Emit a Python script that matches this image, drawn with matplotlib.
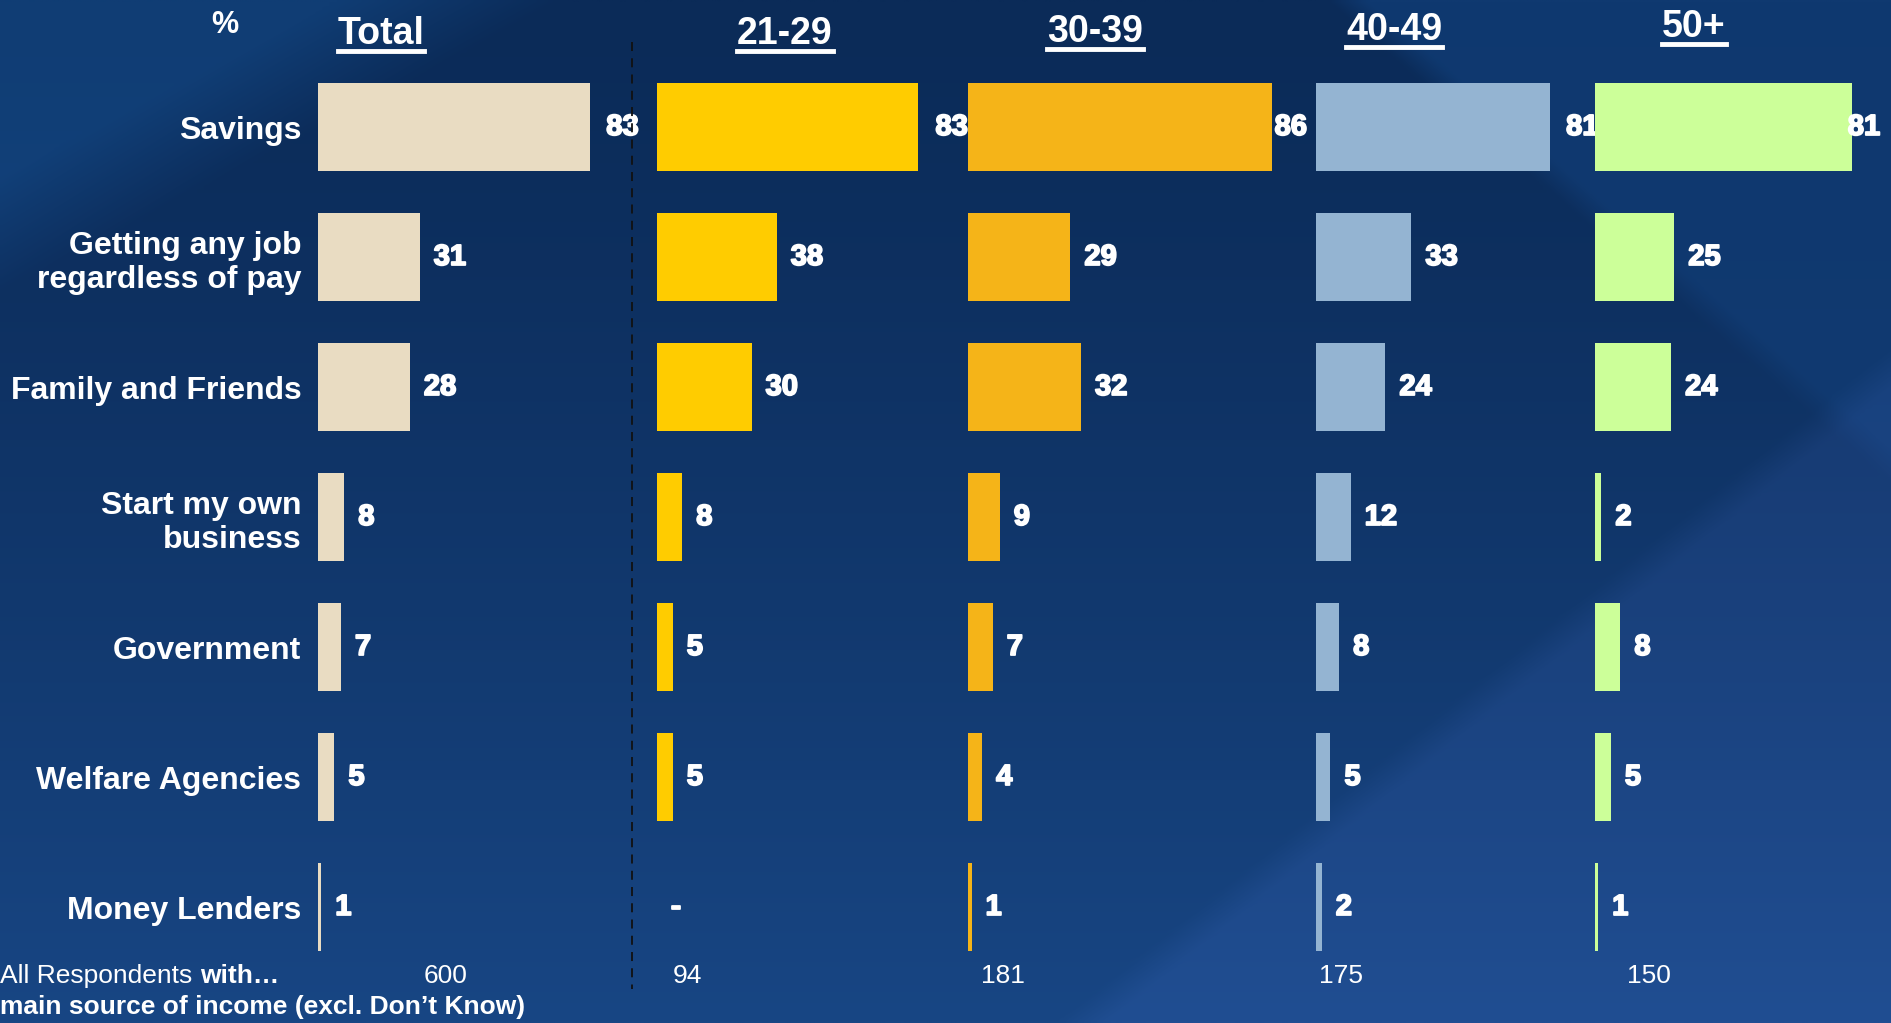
import numpy as np
import matplotlib
matplotlib.use("Agg")
import matplotlib.pyplot as plt
import matplotlib.patheffects as pe
from matplotlib.lines import Line2D

# ---- data ----
categories = ["Savings", "Getting any job\nregardless of pay", "Family and Friends",
              "Start my own\nbusiness", "Government", "Welfare Agencies", "Money Lenders"]
groups = ["Total", "21-29", "30-39", "40-49", "50+"]
total = [83, 31, 28, 8, 7, 5, 1]
age_21_29 = [83, 38, 30, 8, 5, 5, 0]
age_30_39 = [86, 29, 32, 9, 7, 4, 1]
age_40_49 = [81, 33, 24, 12, 8, 5, 2]
age_50_plus = [81, 25, 24, 2, 8, 5, 1]
bases = [600, 94, 181, 175, 150]

series = [total, age_21_29, age_30_39, age_40_49, age_50_plus]
colors = ["#E9DCC2", "#FFCC00", "#F5B418", "#94B4D2", "#CCFF99"]

# ---- layout (figure pixels) ----
W, H = 1891, 1023
bar_left = [318, 657, 968, 1316, 1595]
px_per_unit = [3.28, 3.15, 3.53, 2.89, 3.17]
head_x = [381, 785, 1095, 1394, 1694]
head_base = [44, 44, 42, 40, 37]
base_x = [446, 687, 1003, 1341, 1649]
first_gap_px = [16, 17, 3, 16, -4]   # label gap for the top row
gap_px = 14
ax_w = 330
ax_top, ax_bot = 62, 972

plt.rcParams["font.family"] = ["Liberation Sans", "DejaVu Sans"]

fig = plt.figure(figsize=(W / 100, H / 100), dpi=100)


def fx(x):
    return x / W


def fy(y):
    return 1 - y / H


# ---- background ----
bg = fig.add_axes([0, 0, 1, 1], zorder=-10)
ny, nx = 256, 474
yy, xx = np.mgrid[0:ny, 0:nx]
X = xx / (nx - 1) * W
Y = yy / (ny - 1) * H
top = np.array([11, 43, 88]) / 255
bot = np.array([24, 70, 132]) / 255
t = (Y / H) ** 1.3
img = top[None, None, :] * (1 - t[..., None]) + bot[None, None, :] * t[..., None]
# lighter wedge lower right
d1 = (Y - (1023 + (X - 1060) * (350 - 1023) / (1891 - 1060)))
m1 = np.clip(d1 / 40, 0, 1)
img += m1[..., None] * np.array([8, 8, 14]) / 255
# lighter wedge top right
d2 = X - (1330 + Y * 560 / 480)
m2 = np.clip(d2 / 40, 0, 1) * np.clip(1 - Y / 800, 0, 1)
img += m2[..., None] * np.array([4, 14, 24]) / 255
# lighter top-left corner
d3 = 1 - (X / 560 + Y / 290)
m3 = np.clip(d3 * 2.5, 0, 1)
img += m3[..., None] * np.array([5, 18, 28]) / 255
bg.imshow(np.clip(img, 0, 1), extent=[0, W, H, 0], aspect="auto", interpolation="bilinear")
bg.set_xlim(0, W)
bg.set_ylim(H, 0)
bg.axis("off")

heavy = [pe.withStroke(linewidth=1.3, foreground="white")]
ypos = np.arange(len(categories))
for k, (vals, col) in enumerate(zip(series, colors)):
    ax = fig.add_axes([fx(bar_left[k]), fy(ax_bot), ax_w / W, (ax_bot - ax_top) / H])
    ax.patch.set_alpha(0)
    ax.barh(ypos, vals, height=0.67, color=col, edgecolor="none")
    ax.set_xlim(0, ax_w / px_per_unit[k])
    ax.set_ylim(len(categories) - 0.5, -0.5)
    for s in ax.spines.values():
        s.set_visible(False)
    ax.set_xticks([])
    ax.tick_params(left=False, length=0)
    if k == 0:
        ax.set_yticks(ypos)
        ax.set_yticklabels(categories, color="white", fontsize=23, fontweight="bold",
                           ha="right", multialignment="right")
        ax.tick_params(axis="y", pad=12)
    else:
        ax.set_yticks([])
    for i, v in enumerate(vals):
        lab = str(v) if v > 0 else "-"
        g = first_gap_px[k] if i == 0 else gap_px
        ax.annotate(lab, xy=(v, i), xytext=(g * 0.72, 0), textcoords="offset points",
                    va="center", ha="left", color="white", fontsize=21, fontweight="bold",
                    annotation_clip=False, path_effects=heavy)

# headers
fig.text(fx(225), fy(33), "%", color="white", fontsize=22, fontweight="bold",
         ha="center", va="baseline")
head_texts = []
for k, g in enumerate(groups):
    tx = fig.text(fx(head_x[k]), fy(head_base[k]), g, color="white", fontsize=27,
                  fontweight="bold", ha="center", va="baseline")
    head_texts.append(tx)

# dashed separator
fig.add_artist(Line2D([fx(632), fx(632)], [fy(42), fy(989)], color="#111111",
                      lw=1.3, ls=(0, (5, 4))))

# footer
t1 = fig.text(0, fy(976), "All Respondents ", color="white", fontsize=19,
              ha="left", va="center")
fig.text(0, fy(1007), "main source of income (excl. Don\u2019t Know)", color="white",
         fontsize=19, fontweight="bold", ha="left", va="center")
for k, b in enumerate(bases):
    fig.text(fx(base_x[k]), fy(976), str(b), color="white", fontsize=19,
             ha="center", va="center")

fig.canvas.draw()
r = fig.canvas.get_renderer()
bb = t1.get_window_extent(r)
fig.text(bb.x1 / W, fy(976), "with\u2026", color="white", fontsize=19, fontweight="bold",
         ha="left", va="center")
for k, tx in enumerate(head_texts):
    bb = tx.get_window_extent(r)
    y = fy(head_base[k] + 7)
    fig.add_artist(Line2D([bb.x0 / W, bb.x1 / W], [y, y], color="white", lw=3.5))

fig.savefig("out.png", dpi=100)
